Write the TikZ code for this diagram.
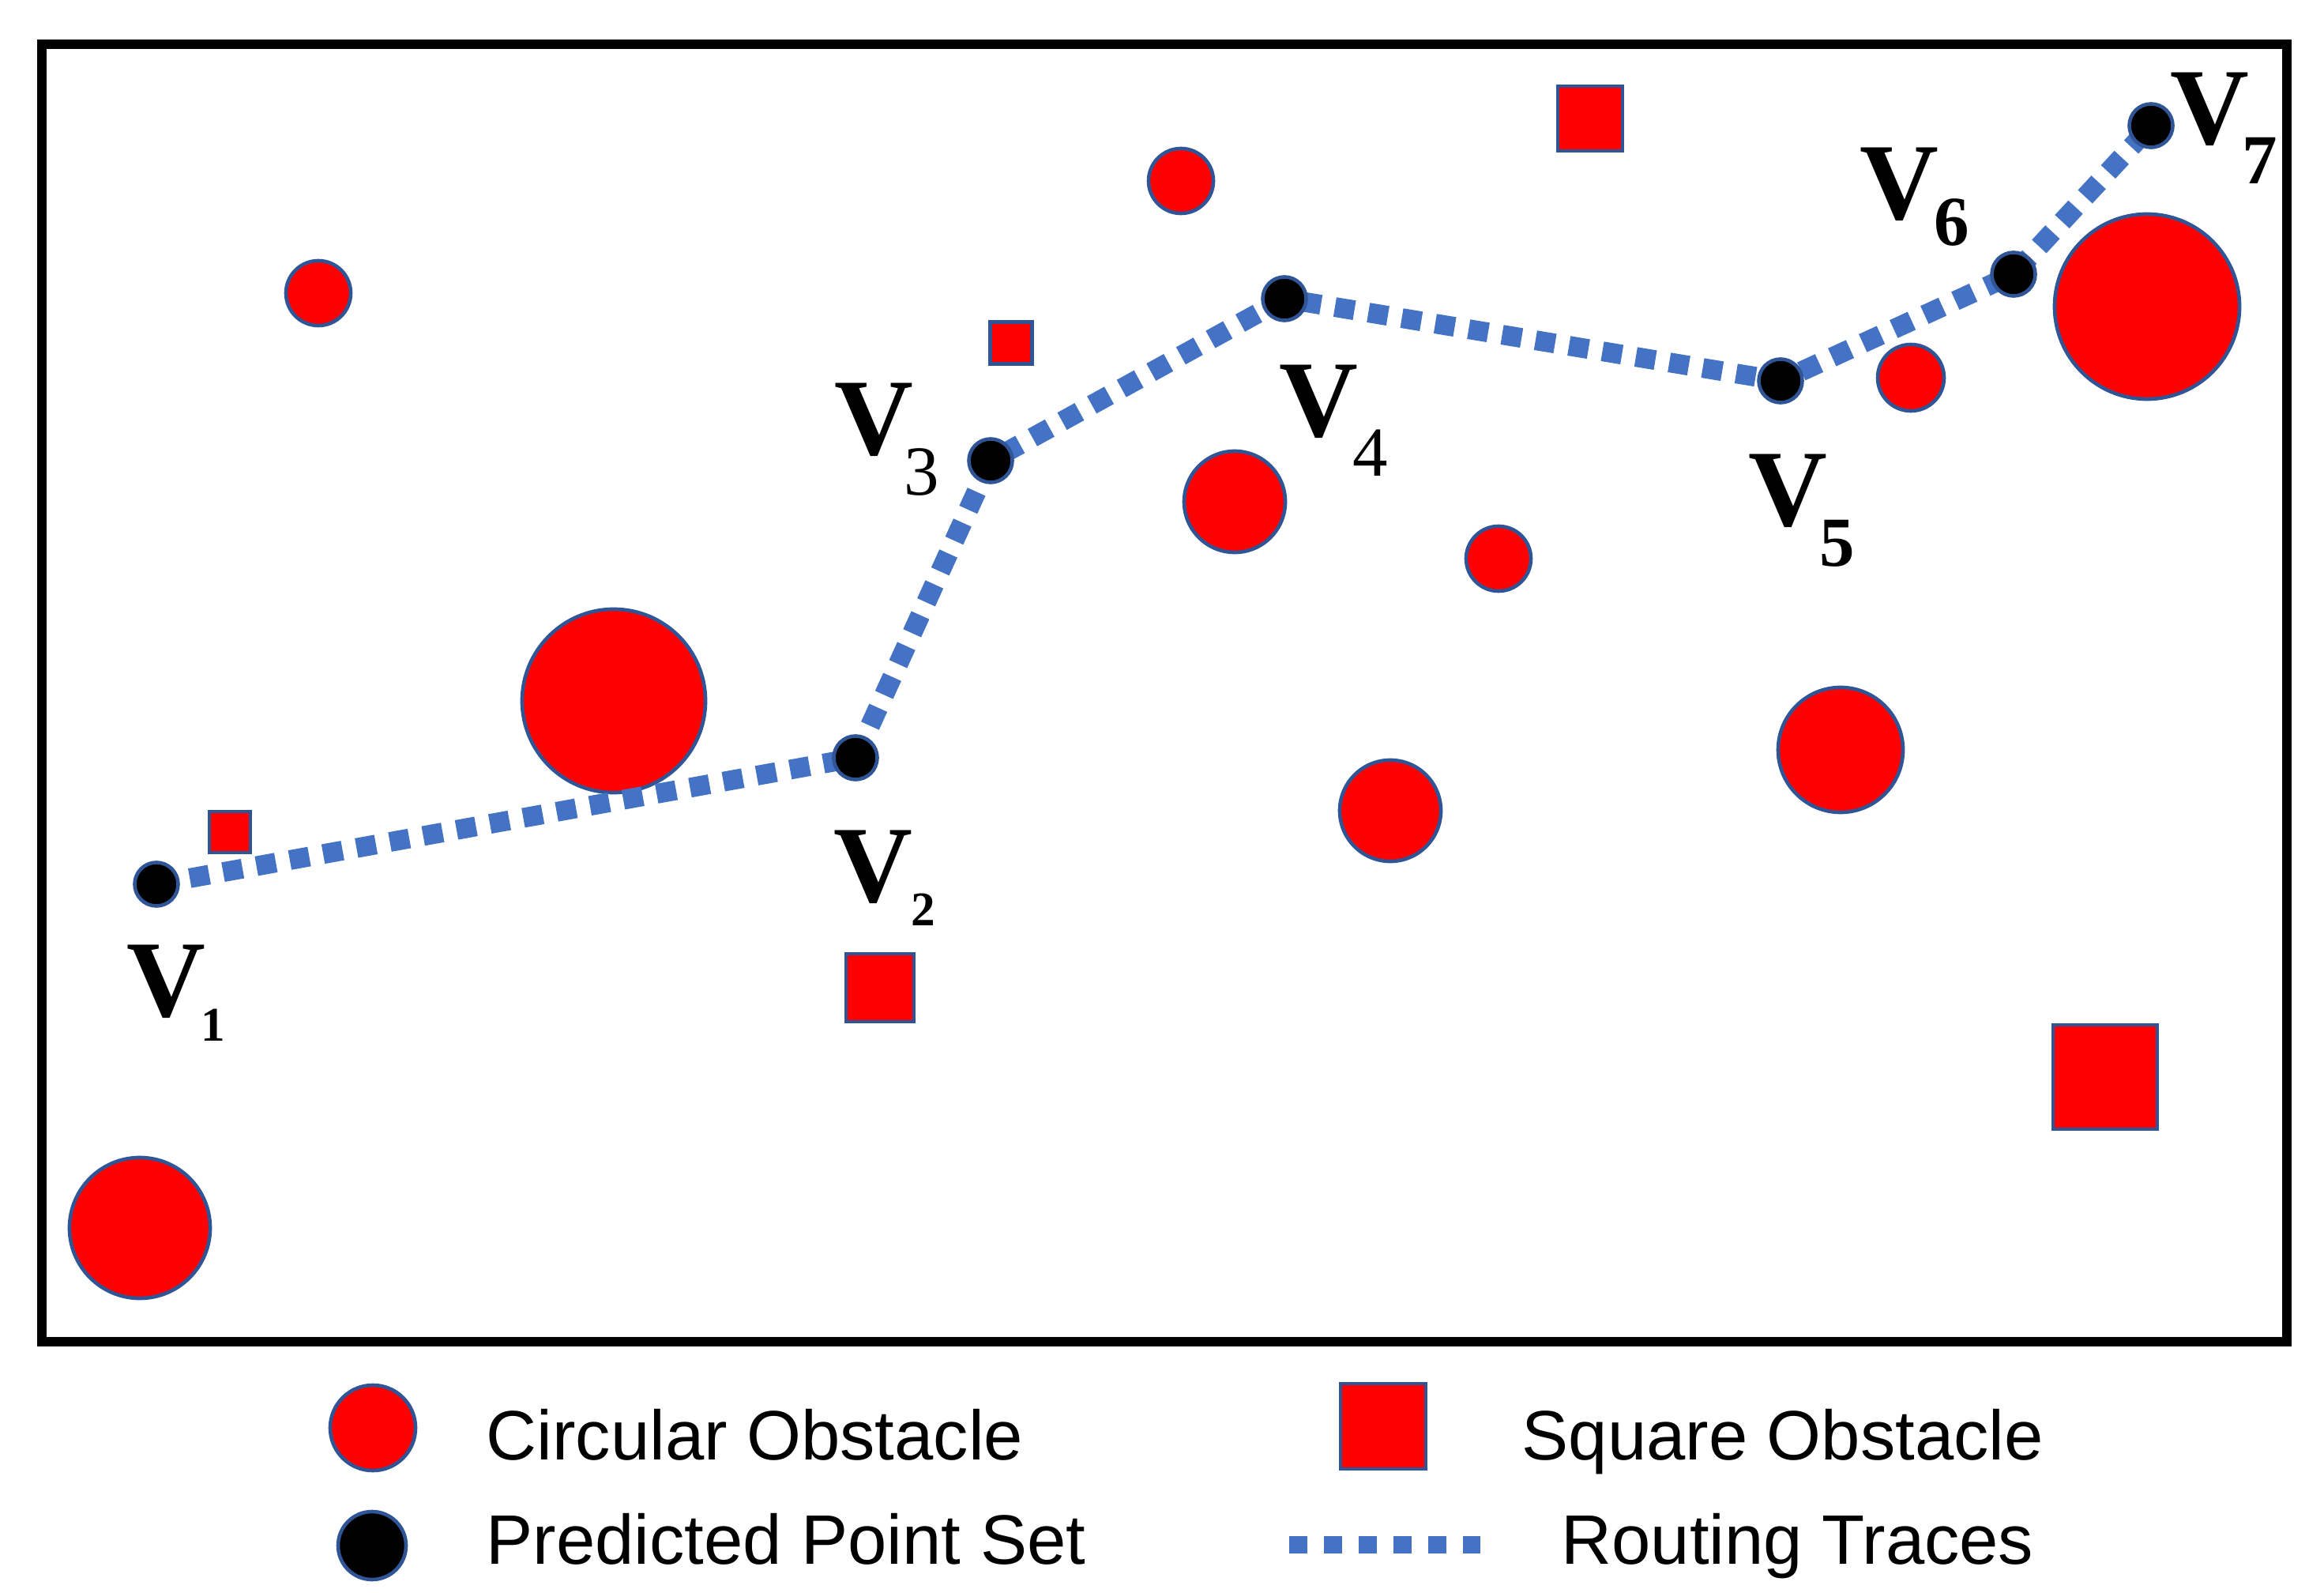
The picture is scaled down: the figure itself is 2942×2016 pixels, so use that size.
\documentclass[tikz,border=0pt]{standalone}
\usepackage{fontspec}
\setmainfont{Liberation Serif}
\newfontfamily\legfont{Liberation Sans}
\definecolor{obsred}{HTML}{FF0000}
\definecolor{edgeblue}{HTML}{2F5597}
\definecolor{routeblue}{HTML}{4472C4}
\tikzset{
  obs/.style={circle, fill=obsred, draw=edgeblue, line width=1.3pt, inner sep=0pt},
  sqobs/.style={rectangle, fill=obsred, draw=edgeblue, line width=1.3pt, inner sep=0pt},
  ptdot/.style={circle, fill=black, draw=edgeblue, line width=1.3pt, inner sep=0pt, minimum size=0.55cm},
  route/.style={draw=routeblue, line width=7.1pt, dash pattern=on 7.1pt off 5.1pt},
  legroute/.style={draw=routeblue, line width=6.5pt, dash pattern=on 6.5pt off 6pt},
  vlab/.style={inner sep=0pt, anchor=base, font=\fontsize{39.3}{40}\selectfont\bfseries},
  subbig/.style={inner sep=0pt, anchor=base, font=\fontsize{25.3}{26}\selectfont\bfseries},
  subreg/.style={inner sep=0pt, anchor=base, font=\fontsize{25.3}{26}\selectfont},
  subsmall/.style={inner sep=0pt, anchor=base, font=\fontsize{17.4}{18}\selectfont\bfseries},
  legtext/.style={inner sep=0pt, anchor=base west, font=\legfont\fontsize{25.2}{26}\selectfont}
}
\begin{document}
\begin{tikzpicture}[x=0.01cm,y=-0.01cm]
\useasboundingbox (0,0) rectangle (2942,2016);
\fill[white] (0,0) rectangle (2942,2016);
\draw[line width=3.4pt] (53,56) rectangle (2895,1698);

% circular obstacles
\node[obs, minimum size=0.82cm] (c1) at (403,371) {};
\node[obs, minimum size=0.82cm] (c2) at (1495,229) {};
\node[obs, minimum size=1.28cm] (c3) at (1563,635) {};
\node[obs, minimum size=0.82cm] (c4) at (1897,707) {};
\node[obs, minimum size=2.32cm] (c5) at (777,887) {};
\node[obs, minimum size=1.28cm] (c6) at (1760,1026) {};
\node[obs, minimum size=1.58cm] (c7) at (2330,949) {};
\node[obs, minimum size=0.84cm] (c8) at (2419,478) {};
\node[obs, minimum size=2.34cm] (c9) at (2718,388) {};
\node[obs, minimum size=1.78cm] (c10) at (177,1554) {};

% square obstacles
\node[sqobs, minimum size=0.82cm] (s1) at (2013,150) {};
\node[sqobs, minimum size=0.53cm] (s2) at (1280,434) {};
\node[sqobs, minimum size=0.52cm] (s3) at (291,1053) {};
\node[sqobs, minimum size=0.86cm] (s4) at (1114,1250) {};
\node[sqobs, minimum size=1.32cm] (s5) at (2665,1363) {};

% predicted points
\coordinate (p1) at (198,1119);
\coordinate (p2) at (1083,959);
\coordinate (p3) at (1254,583);
\coordinate (p4) at (1626,378);
\coordinate (p5) at (2254,482);
\coordinate (p6) at (2549,347);
\coordinate (p7) at (2723,159);

\draw[route] (p1) -- (p2) -- (p3) -- (p4) -- (p5) -- (p6) -- (p7);

\node[ptdot] (v1) at (p1) {};
\node[ptdot] (v2) at (p2) {};
\node[ptdot] (v3) at (p3) {};
\node[ptdot] (v4) at (p4) {};
\node[ptdot] (v5) at (p5) {};
\node[ptdot] (v6) at (p6) {};
\node[ptdot] (v7) at (p7) {};

% labels
\node[vlab] (l1) at (210,1286) {V};
\node[subsmall] (n1) at (270,1317) {1};
\node[vlab] (l2) at (1105,1141) {V};
\node[subsmall] (n2) at (1169,1172) {2};
\node[vlab] (l3) at (1106,576) {V};
\node[subreg] (n3) at (1167,627) {3};
\node[vlab] (l4) at (1669,553) {V};
\node[subreg] (n4) at (1735,603) {4};
\node[vlab] (l5) at (2263,666) {V};
\node[subbig] (n5) at (2326,717) {5};
\node[vlab] (l6) at (2404,278) {V};
\node[subbig] (n6) at (2471,311) {6};
\node[vlab] (l7) at (2797,183) {V};
\node[subbig] (n7) at (2861,233) {7};

% legend
\node[obs, minimum size=1.08cm] (lc) at (472,1807) {};
\node[legtext] (tc) at (615,1847) {Circular Obstacle};
\node[sqobs, minimum size=1.08cm] (ls) at (1751,1805) {};
\node[legtext] (ts) at (1926,1847) {Square Obstacle};
\node[ptdot, minimum size=0.86cm] (lp) at (471,1956) {};
\node[legtext] (tp) at (615,1979) {Predicted Point Set};
\coordinate (la) at (1632,1955);
\coordinate (lb) at (1874,1955);
\draw[legroute] (la) -- (lb);
\node[legtext] (tr) at (1976,1979) {Routing Traces};
\end{tikzpicture}
\end{document}
